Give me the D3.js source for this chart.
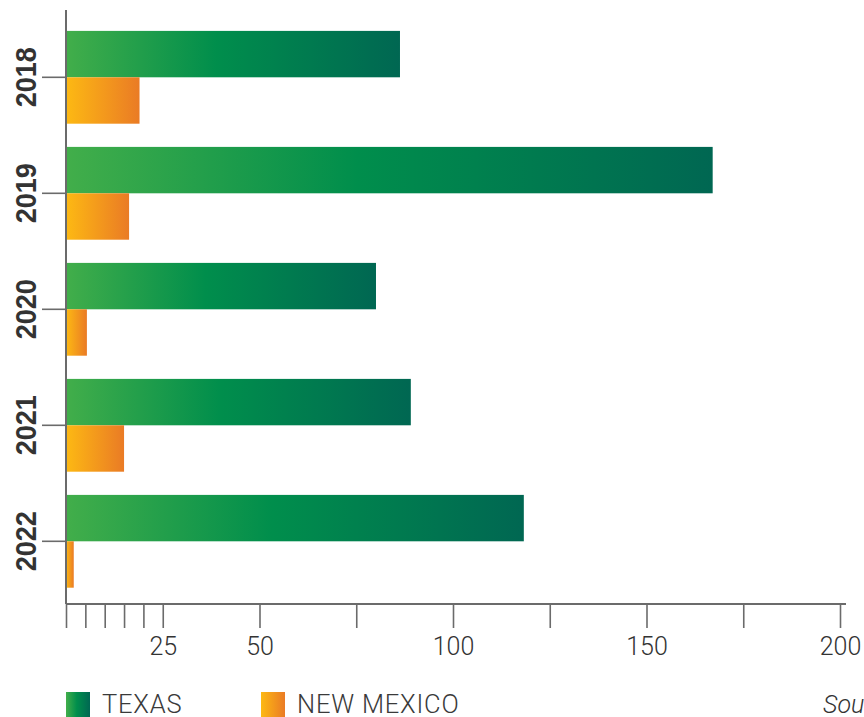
<!DOCTYPE html>
<html>
<head>
<meta charset="utf-8">
<script src="https://cdn.jsdelivr.net/npm/d3@7"></script>
<style>
  html, body { margin: 0; padding: 0; background: #fff; overflow: hidden; }
  svg { display: block; }
</style>
</head>
<body>
<svg id="chart" width="864" height="717"></svg>
<script>
// ---- data ----
const years = ["2018", "2019", "2020", "2021", "2022"];
const series = ["TEXAS", "NEW MEXICO"];
const texas = [86.3, 167.1, 80.1, 89.1, 118.3];
const newMexico = [19.0, 16.3, 5.4, 15.0, 2.0];
const tickValues = [0, 5, 10, 15, 20, 25, 50, 75, 100, 125, 150, 175, 200];
const tickLabels = [25, 50, 100, 150, 200];
const sourceLabel = "Source: U.S. Energy Information Administration";

// ---- setup ----
const svg = d3.select("#chart");
const defs = svg.append("defs");

function grad(id, stops) {
  const g = defs.append("linearGradient").attr("id", id)
    .attr("x1", "0%").attr("x2", "100%").attr("y1", "0%").attr("y2", "0%");
  stops.forEach(s => g.append("stop").attr("offset", s[0]).attr("stop-color", s[1]));
}
grad("gTexas", [["0%", "#42ae4a"], ["45%", "#008e4c"], ["100%", "#006752"]]);
grad("gNM", [["0%", "#fdb913"], ["100%", "#ea7b25"]]);
const fills = { "TEXAS": "url(#gTexas)", "NEW MEXICO": "url(#gNM)" };

const x = d3.scaleLinear().domain([0, 200]).range([66, 840]);
const y = d3.scaleBand().domain(years).range([19.3, 599.3]).paddingInner(0.2).paddingOuter(0.1);
const ySub = d3.scaleBand().domain(series).range([0, y.bandwidth()]);

const rows = years.map((yr, i) => ({ year: yr, values: [
  { key: "TEXAS", value: texas[i] },
  { key: "NEW MEXICO", value: newMexico[i] }
]}));

// ---- bars ----
const groups = svg.append("g").selectAll("g").data(rows).join("g")
  .attr("transform", d => `translate(0,${y(d.year)})`);
groups.selectAll("rect").data(d => d.values).join("rect")
  .attr("x", x(0))
  .attr("y", d => ySub(d.key))
  .attr("width", d => x(d.value) - x(0))
  .attr("height", ySub.bandwidth())
  .attr("fill", d => fills[d.key]);

const axisColor = "#6b6b6b";
const baseY = 604;

// ---- x axis ----
const xAxis = svg.append("g").attr("transform", `translate(0,${baseY})`)
  .call(d3.axisBottom(x).tickValues(tickValues).tickSize(24).tickSizeOuter(0)
    .tickFormat(d => tickLabels.includes(d) ? d : ""));
xAxis.select(".domain").remove();
xAxis.selectAll(".tick line").attr("stroke", axisColor).attr("stroke-width", 1.6);
xAxis.selectAll(".tick text")
  .attr("y", 51).attr("dy", 0)
  .attr("fill", "#333")
  .style("font-family", "Roboto, 'Liberation Sans', sans-serif")
  .style("font-weight", 300)
  .style("font-size", "25px");
svg.append("line").attr("x1", 66).attr("x2", 846).attr("y1", baseY).attr("y2", baseY)
  .attr("stroke", axisColor).attr("stroke-width", 1.8);

// ---- y axis ----
svg.append("line").attr("x1", 66).attr("x2", 66).attr("y1", 10).attr("y2", baseY)
  .attr("stroke", axisColor).attr("stroke-width", 2);
const yTicks = svg.append("g").selectAll("g").data(years).join("g")
  .attr("transform", d => `translate(0,${y(d) + y.bandwidth() / 2})`);
yTicks.append("line").attr("x1", 42).attr("x2", 66).attr("stroke", axisColor).attr("stroke-width", 1.6);
yTicks.append("text")
  .attr("transform", "translate(36,0) rotate(-90) scale(0.9,1)")
  .attr("text-anchor", "middle")
  .attr("fill", "#333")
  .style("font-family", "'Liberation Sans', Arial, sans-serif")
  .style("font-weight", 700)
  .style("font-size", "30px")
  .text(d => d);

// ---- legend ----
const legendX = [66, 261];
const legend = svg.append("g").selectAll("g").data(series).join("g")
  .attr("transform", (d, i) => `translate(${legendX[i]},692)`);
legend.append("rect").attr("width", 24).attr("height", 26).attr("fill", d => fills[d]);
legend.append("text").attr("x", 36).attr("y", 21)
  .attr("fill", "#3a3a3a")
  .style("font-family", "Roboto, 'Liberation Sans', sans-serif")
  .style("font-weight", 300)
  .style("font-size", "25.5px")
  .style("letter-spacing", "0.8px")
  .text(d => d);

svg.append("text").attr("x", 823).attr("y", 713)
  .attr("fill", "#333")
  .style("font-family", "Roboto, 'Liberation Sans', sans-serif")
  .style("font-weight", 300)
  .style("font-style", "italic")
  .style("font-size", "25px")
  .text(sourceLabel);
</script>
</body>
</html>
